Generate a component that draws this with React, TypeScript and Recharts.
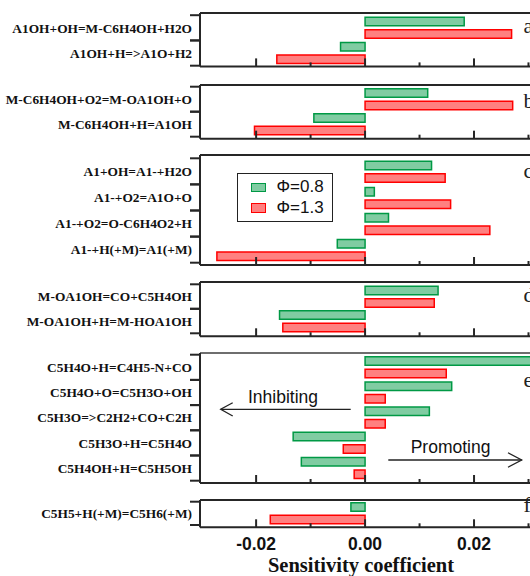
import React from 'react';
import { BarChart, Bar, XAxis, YAxis, Legend } from 'recharts';

// ---------- data ----------
const reactionsA = ['A1OH+OH=M-C6H4OH+H2O', 'A1OH+H=>A1O+H2'];
const phi08A = [0.0182, -0.0045];
const phi13A = [0.0269, -0.0162];

const reactionsB = ['M-C6H4OH+O2=M-OA1OH+O', 'M-C6H4OH+H=A1OH'];
const phi08B = [0.0115, -0.0094];
const phi13B = [0.0271, -0.0203];

const reactionsC = ['A1+OH=A1-+H2O', 'A1-+O2=A1O+O', 'A1-+O2=O-C6H4O2+H', 'A1-+H(+M)=A1(+M)'];
const phi08C = [0.0122, 0.0017, 0.0043, -0.0051];
const phi13C = [0.0147, 0.0157, 0.0229, -0.0272];

const reactionsD = ['M-OA1OH=CO+C5H4OH', 'M-OA1OH+H=M-HOA1OH'];
const phi08D = [0.0134, -0.0157];
const phi13D = [0.0127, -0.0151];

const reactionsE = ['C5H4O+H=C4H5-N+CO', 'C5H4O+O=C5H3O+OH', 'C5H3O=>C2H2+CO+C2H', 'C5H3O+H=C5H4O', 'C5H4OH+H=C5H5OH'];
const phi08E = [0.033, 0.0159, 0.0118, -0.0132, -0.0117];
const phi13E = [0.0149, 0.0037, 0.0037, -0.004, -0.002];

const reactionsF = ['C5H5+H(+M)=C5H6(+M)'];
const phi08F = [-0.0026];
const phi13F = [-0.0174];

const seriesNames = ['Φ=0.8', 'Φ=1.3'];
const xTicks = [-0.02, -0.01, 0, 0.01, 0.02, 0.03];
const xLabelTicks = [-0.02, 0, 0.02];
const panelLetters = ['a', 'b', 'c', 'd', 'e', 'f'];
const axisTitle = 'Sensitivity coefficient';
const inhibitingText = 'Inhibiting';
const promotingText = 'Promoting';

// ---------- styles ----------
const DOMAIN: [number, number] = [-0.0303, 0.04];
const CHART_W = 583;
const AXIS = '#262626';
const FILLS = ['#80cca2', '#ff8080'];
const STROKES = ['#009945', '#ff0000'];
const SERIF = "'Liberation Serif', 'Times New Roman', serif";
const SANS = "'Liberation Sans', Arial, sans-serif";

const makeXTick = (showLabels: boolean) => (props: any) => {
  const { x, y, payload } = props;
  const v = payload.value;
  const major = xLabelTicks.some((t) => Math.abs(t - v) < 1e-9);
  return (
    <g>
      <line x1={x} x2={x} y1={y} y2={y - (major ? 8 : 4)} stroke={AXIS} strokeWidth={2} />
      {showLabels && major && (
        <text x={x} y={y + 22.7} textAnchor="middle" fontFamily={SANS} fontWeight="bold" fontSize={17.5} fill="#111">
          {v.toFixed(2)}
        </text>
      )}
    </g>
  );
};

const makeYTick = (band: number) => (props: any) => {
  const { x, y, payload } = props;
  return (
    <g>
      <line x1={x - 10} x2={x} y1={y - band / 2} y2={y - band / 2} stroke={AXIS} strokeWidth={2} />
      <line x1={x - 10} x2={x} y1={y + band / 2} y2={y + band / 2} stroke={AXIS} strokeWidth={2} />
      <text x={x - 8} y={y} dy="0.35em" textAnchor="end" fontFamily={SERIF} fontWeight="bold" fontSize={13.4} fill="#111">
        {payload.value}
      </text>
    </g>
  );
};

const LegendBox = (props: any) => {
  const items = props.payload || [];
  return (
    <div
      style={{
        position: 'relative',
        width: 96,
        height: 49,
        border: '1.5px solid #222',
        boxSizing: 'border-box',
        background: '#fff',
      }}
    >
      {items.map((it: any, i: number) => (
        <div
          key={i}
          style={{ position: 'absolute', left: 13.5, top: 8.5 + i * 20.3, display: 'flex', alignItems: 'center', height: 10.6 }}
        >
          <span
            style={{
              display: 'inline-block',
              width: 13,
              height: 7.6,
              background: FILLS[i],
              border: `1.5px solid ${STROKES[i]}`,
            }}
          />
          <span style={{ marginLeft: 10.3, fontFamily: SANS, fontSize: 17, color: '#111', lineHeight: '10px', whiteSpace: 'nowrap' }}>
            {it.value}
          </span>
        </div>
      ))}
    </div>
  );
};

type PanelProps = {
  names: string[];
  lean: number[];
  rich: number[];
  top: number;
  bottom: number;
  padT: number;
  padB: number;
  showLabels?: boolean;
  legend?: boolean;
  topStroke?: string;
};

function Panel({ names, lean, rich, top, bottom, padT, padB, showLabels = false, legend = false, topStroke = AXIS }: PanelProps) {
  const mT = 3;
  const mB = showLabels ? 50 : 3;
  const frameH = bottom - top;
  const band = (frameH - padT - padB) / names.length;
  const data = names.map((name, i) => ({ name, lean: lean[i], rich: rich[i] }));
  const chartTop = top - mT - 1;
  return (
    <div style={{ position: 'absolute', left: 0, top: chartTop }}>
      <BarChart
        width={CHART_W}
        height={frameH + mT + mB + 2}
        layout="vertical"
        data={data}
        margin={{ top: mT, right: 0, bottom: mB, left: 0 }}
        barGap={4}
        barSize={8.5}
      >
        <XAxis
          xAxisId="top"
          orientation="top"
          type="number"
          domain={DOMAIN}
          allowDataOverflow
          height={1}
          axisLine={{ stroke: topStroke, strokeWidth: 2 }}
          tick={false}
          tickLine={false}
        />
        <XAxis
          type="number"
          domain={DOMAIN}
          allowDataOverflow
          ticks={xTicks}
          interval={0}
          height={1}
          tickSize={0}
          tickMargin={0}
          axisLine={{ stroke: AXIS, strokeWidth: 2 }}
          tickLine={false}
          tick={makeXTick(showLabels)}
        />
        <YAxis
          type="category"
          dataKey="name"
          width={200}
          padding={{ top: padT, bottom: padB }}
          interval={0}
          tickSize={0}
          tickMargin={0}
          tickLine={false}
          axisLine={{ stroke: AXIS, strokeWidth: 2 }}
          tick={makeYTick(band)}
        />
        <Bar dataKey="lean" name={seriesNames[0]} fill={FILLS[0]} stroke={STROKES[0]} strokeWidth={1.5} isAnimationActive={false} />
        <Bar dataKey="rich" name={seriesNames[1]} fill={FILLS[1]} stroke={STROKES[1]} strokeWidth={1.5} isAnimationActive={false} />
        {legend && (
          <Legend
            layout="vertical"
            align="center"
            verticalAlign="middle"
            wrapperStyle={{ left: 236.7, top: 172.7 - chartTop, width: 96, height: 49 }}
            content={<LegendBox />}
          />
        )}
      </BarChart>
    </div>
  );
}

const letterBaselines = [33.3, 108.3, 178.3, 301.7, 386.7, 512];

export default function App() {
  return (
    <div style={{ position: 'absolute', left: 0, top: 0, width: 530, height: 576, overflow: 'hidden', background: '#fff' }}>
      <Panel names={reactionsA} lean={phi08A} rich={phi13A} top={13.3} bottom={66.7} padT={2.2} padB={0.7} />
      <Panel names={reactionsB} lean={phi08B} rich={phi13B} top={85} bottom={138.7} padT={1.7} padB={2} />
      <Panel names={reactionsC} lean={phi08C} rich={phi13C} top={155} bottom={265} padT={3.3} padB={2.3} legend />
      <Panel names={reactionsD} lean={phi08D} rich={phi13D} top={281.7} bottom={336} padT={2.3} padB={3} />
      <Panel names={reactionsE} lean={phi08E} rich={phi13E} top={353.3} bottom={483.3} padT={1.7} padB={2.3} topStroke="#6e6e6e" />
      <Panel names={reactionsF} lean={phi08F} rich={phi13F} top={500} bottom={527.3} padT={1.7} padB={2.3} showLabels />
      <svg width={530} height={576} style={{ position: 'absolute', left: 0, top: 0, pointerEvents: 'none' }}>
        {panelLetters.map((l, i) => (
          <text key={l} x={523.5} y={letterBaselines[i]} fontFamily={SERIF} fontSize={22} fill="#222">
            {l}
          </text>
        ))}
        <text x={248} y={403.3} fontFamily={SANS} fontSize={17.5} fill="#111">{inhibitingText}</text>
        <g stroke="#222" strokeWidth={1.3} fill="none">
          <line x1={350.7} y1={409.3} x2={220.7} y2={409.3} />
          <polyline points="232.7,402.7 220.7,409.3 232.7,416" />
        </g>
        <text x={410.7} y={453.3} fontFamily={SANS} fontSize={17.5} fill="#111">{promotingText}</text>
        <g stroke="#222" strokeWidth={1.3} fill="none">
          <line x1={388.3} y1={460} x2={521.7} y2={460} />
          <polyline points="508,452.7 521.7,460 508,467.3" />
        </g>
        <text x={361} y={572} textAnchor="middle" fontFamily={SERIF} fontWeight="bold" fontSize={20.5} fill="#111">
          {axisTitle}
        </text>
      </svg>
    </div>
  );
}
